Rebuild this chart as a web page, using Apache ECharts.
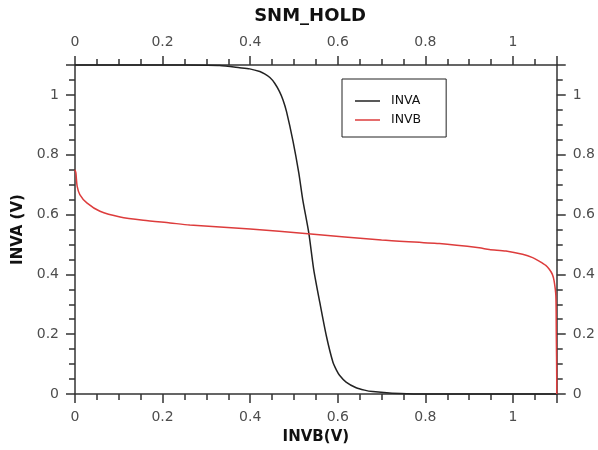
<!DOCTYPE html>
<html>
<head>
<meta charset="utf-8">
<script src="https://cdn.jsdelivr.net/npm/echarts@6/dist/echarts.min.js"></script>
<style>
  html, body { margin: 0; padding: 0; background: #fff; }
  #chart { width: 598px; height: 450px; }
</style>
</head>
<body>
<div id="chart"></div>
<script>
// INVA (black) : output of inverter A vs INVB
const invaX = [0, 0.1, 0.2, 0.3, 0.33, 0.376, 0.399, 0.422, 0.433, 0.445, 0.456, 0.467, 0.475, 0.483, 0.498, 0.511, 0.52, 0.534, 0.545, 0.559, 0.574, 0.589, 0.597, 0.604, 0.619, 0.642, 0.661, 0.68, 0.718, 0.76, 0.8, 0.9, 1.0, 1.1];
const invaY = [1.1, 1.1, 1.1, 1.099, 1.098, 1.091, 1.087, 1.078, 1.07, 1.058, 1.039, 1.011, 0.983, 0.944, 0.844, 0.739, 0.65, 0.537, 0.417, 0.306, 0.194, 0.106, 0.08, 0.063, 0.04, 0.021, 0.013, 0.008, 0.003, 0.001, 0, 0, 0, 0];
// INVB (red)
const invbX = [0, 0.002, 0.005, 0.011, 0.027, 0.057, 0.103, 0.156, 0.217, 0.262, 0.4, 0.532, 0.7, 0.832, 0.923, 0.946, 0.984, 1.022, 1.045, 1.06, 1.075, 1.083, 1.09, 1.094, 1.098, 1.099, 1.1, 1.1];
const invbY = [0.75, 0.739, 0.694, 0.667, 0.639, 0.611, 0.592, 0.581, 0.572, 0.565, 0.552, 0.536, 0.515, 0.503, 0.489, 0.483, 0.478, 0.467, 0.456, 0.444, 0.43, 0.417, 0.4, 0.378, 0.328, 0.2, 0.05, 0];

const seriesNames = ["INVA", "INVB"];
const seriesColors = ["#222222", "#dd3c3c"];

function zip(xs, ys) {
  return xs.map((x, i) => [x, ys[i]]);
}

const font = "DejaVu Sans";
const axisLineColor = "#333";

function makeAxis(position) {
  return {
    type: "value",
    position: position,
    min: 0,
    max: 1.1,
    interval: 0.2,
    axisLine: { show: true, onZero: false, lineStyle: { color: axisLineColor, width: 1.5 } },
    axisTick: { show: true, inside: false, length: 9, lineStyle: { color: axisLineColor, width: 1.5 } },
    minorTick: { show: true, splitNumber: 4, length: 6, lineStyle: { color: axisLineColor, width: 1.5 } },
    axisLabel: { show: true, margin: 16, color: "#4d4d4d", fontFamily: font, fontSize: 14, showMaxLabel: false },
    splitLine: { show: false },
    minorSplitLine: { show: false },
  };
}

const xBottom = Object.assign(makeAxis("bottom"), {
  name: "INVB(V)",
  nameLocation: "middle",
  nameGap: 36,
  nameTextStyle: { fontFamily: font, fontSize: 15, fontWeight: "bold", color: "#111" },
});
const xTop = makeAxis("top");
const yLeft = Object.assign(makeAxis("left"), {
  name: "INVA (V)",
  nameLocation: "middle",
  nameGap: 45,
  nameTextStyle: { fontFamily: font, fontSize: 15, fontWeight: "bold", color: "#111" },
});
const yRight = makeAxis("right");

const chart = echarts.init(document.getElementById("chart"), null, { renderer: "canvas" });
chart.setOption({
  animation: false,
  backgroundColor: "#fff",
  title: {
    text: "SNM_HOLD",
    left: 305,
    top: 2,
    textAlign: "center",
    textStyle: { fontFamily: font, fontSize: 18, fontWeight: "bold", color: "#111" },
  },
  legend: {
    orient: "vertical",
    left: 342,
    top: 79,
    padding: [15, 25, 10, 13],
    icon: "rect",
    itemWidth: 25,
    itemHeight: 1.5,
    itemGap: 5,
    borderColor: "#222",
    borderWidth: 1,
    borderRadius: 0,
    backgroundColor: "#fff",
    textStyle: { fontFamily: font, fontSize: 12.5, color: "#111", padding: [0, 0, 0, 6], lineHeight: 14 },
    data: seriesNames,
  },
  grid: { left: 75, right: 40.5, top: 65, bottom: 55, containLabel: false },
  xAxis: [xBottom, xTop],
  yAxis: [yLeft, yRight],
  series: [
    {
      name: seriesNames[0],
      type: "line",
      xAxisIndex: 0,
      yAxisIndex: 0,
      data: zip(invaX, invaY),
      symbol: "none",
      smooth: 0.25,
      clip: false,
      color: seriesColors[0],
      lineStyle: { color: seriesColors[0], width: 1.5 },
      z: 3,
    },
    {
      name: seriesNames[1],
      type: "line",
      xAxisIndex: 0,
      yAxisIndex: 0,
      data: zip(invbX, invbY),
      symbol: "none",
      smooth: 0.25,
      clip: false,
      color: seriesColors[1],
      lineStyle: { color: seriesColors[1], width: 1.5 },
      z: 3,
    },
  ],
});
</script>
</body>
</html>
